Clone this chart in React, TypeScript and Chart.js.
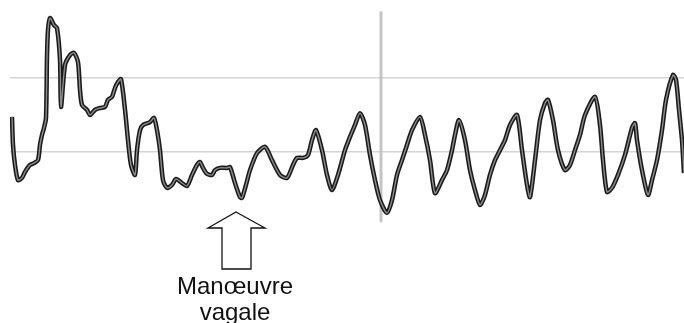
import React, { useEffect, useRef } from "react";
import { Chart, registerables } from "chart.js";

Chart.register(...registerables);

// time samples (arbitrary units)
const times = [
  12, 13, 15, 18, 22, 25, 30, 34, 38, 40, 42, 44, 46, 47, 48, 50, 54, 57, 60, 61,
  65, 70, 74, 78, 80, 82, 87, 90, 95, 100, 105, 108, 112, 115, 118, 121, 125, 128, 131, 135,
  137, 140, 143, 150, 154, 157, 160, 163, 167, 172, 176, 182, 187, 192, 197, 200, 203, 207, 212, 215,
  220, 227, 230, 235, 240, 242, 246, 250, 257, 265, 272, 280, 287, 293, 297, 303, 308, 312, 316, 322,
  327, 332, 338, 345, 350, 355, 360, 365, 370, 375, 380, 387, 392, 397, 402, 407, 412, 420, 425, 430,
  435, 442, 447, 452, 455, 459, 465, 470, 475, 480, 485, 490, 495, 500, 505, 510, 517, 522, 527, 530,
  535, 540, 545, 548, 553, 558, 565, 570, 575, 580, 585, 595, 600, 603, 607, 612, 618, 625, 632, 635,
  637, 642, 648, 652, 657, 662, 666, 673, 676, 679, 682, 684,
];

// heart-rate trace (bpm)
const heartRate = [
  109.5, 101.9, 96.5, 92.4, 93.0, 94.6, 96.5, 97.0, 97.8, 101.9, 104.6, 106.5, 109.2, 125.7, 133.0, 136.2, 134.3, 133.5, 124.9, 112.2,
  123.5, 126.2, 126.8, 124.3, 116.8, 112.7, 111.4, 110.0, 111.4, 111.9, 112.2, 114.1, 114.9, 117.3, 118.9, 119.7, 111.4, 103.2, 96.5, 93.8,
  100.5, 105.9, 107.3, 108.1, 109.2, 105.9, 100.5, 92.4, 90.3, 91.1, 92.7, 91.6, 90.8, 93.8, 96.5, 97.3, 95.7, 94.1, 93.8, 95.1,
  95.7, 95.7, 95.9, 91.6, 87.8, 87.6, 91.1, 95.1, 99.7, 101.4, 97.8, 93.8, 93.0, 96.5, 98.4, 98.4, 99.2, 103.2, 105.9, 100.5,
  93.8, 89.7, 93.8, 100.5, 104.1, 107.3, 110.5, 107.3, 99.2, 92.4, 87.0, 83.5, 87.0, 93.8, 97.8, 101.9, 105.9, 109.5, 104.6, 97.8,
  88.9, 92.4, 95.1, 100.5, 104.6, 108.6, 103.2, 95.1, 89.7, 85.7, 88.4, 93.8, 97.8, 100.5, 103.2, 107.3, 110.0, 100.5, 91.1, 87.8,
  97.8, 108.6, 113.2, 114.1, 108.6, 100.5, 95.1, 96.5, 100.5, 104.6, 110.0, 114.9, 107.3, 97.8, 89.2, 90.3, 93.8, 99.2, 106.5, 107.8,
  103.2, 95.1, 88.4, 92.4, 97.8, 105.9, 114.1, 120.8, 119.5, 111.4, 103.2, 94.3,
];

const gridValues = [100, 120];
const markerTime = 381; // vertical marker
const vagalTime = 236; // vagal manoeuvre arrow
const labelLines = ["Manœuvre", "vagale"];

export default function App() {
  const ref = useRef<HTMLCanvasElement | null>(null);

  useEffect(() => {
    if (!ref.current) return;
    const points = times.map((t, i) => ({ x: t, y: heartRate[i] }));

    const overlay = {
      id: "overlay",
      beforeDatasetsDraw(chart: any) {
        const { ctx, scales } = chart;
        const x = scales.x.getPixelForValue(markerTime);
        ctx.save();
        ctx.strokeStyle = "#c4c4c4";
        ctx.lineWidth = 3;
        ctx.beginPath();
        ctx.moveTo(x, scales.y.getPixelForValue(138));
        ctx.lineTo(x, scales.y.getPixelForValue(81));
        ctx.stroke();
        ctx.restore();
      },
      afterDraw(chart: any) {
        const { ctx, scales } = chart;
        const cx = scales.x.getPixelForValue(vagalTime);
        ctx.save();
        // arrow outline
        ctx.strokeStyle = "#111";
        ctx.lineWidth = 1.3;
        ctx.fillStyle = "#fff";
        ctx.beginPath();
        ctx.moveTo(cx, 212);
        ctx.lineTo(cx + 29, 228);
        ctx.lineTo(cx + 15, 228);
        ctx.lineTo(cx + 15, 269);
        ctx.lineTo(cx - 14, 269);
        ctx.lineTo(cx - 14, 228);
        ctx.lineTo(cx - 28, 228);
        ctx.closePath();
        ctx.fill();
        ctx.stroke();
        // label
        ctx.fillStyle = "#111";
        ctx.font = '24px "Liberation Sans", Arial, sans-serif';
        ctx.textAlign = "center";
        ctx.textBaseline = "alphabetic";
        ctx.fillText(labelLines[0], cx - 1, 294);
        ctx.fillText(labelLines[1], cx - 1, 320);
        ctx.restore();
      },
    };

    const chart = new Chart(ref.current, {
      type: "line",
      data: {
        datasets: [
          {
            data: points,
            borderColor: "#8c8c8c",
            borderWidth: 1.4,
            pointRadius: 0,
            tension: 0.25,
          },
          {
            data: points,
            borderColor: "#1a1a1a",
            borderWidth: 4.5,
            pointRadius: 0,
            tension: 0.25,
          },
        ],
      },
      options: {
        animation: false,
        responsive: false,
        layout: { padding: { left: 10, right: 0, top: 4, bottom: 97 } },
        plugins: { legend: { display: false }, tooltip: { enabled: false } },
        scales: {
          x: { type: "linear", min: 10, max: 684, display: false },
          y: {
            min: 80,
            max: 140,
            afterBuildTicks: (scale: any) => {
              scale.ticks = gridValues.map((v) => ({ value: v }));
            },
            ticks: { display: false },
            border: { display: false },
            grid: { color: "#d4d4d4", lineWidth: 1.5, drawTicks: false },
          },
        },
      },
      plugins: [overlay],
    });
    return () => chart.destroy();
  }, []);

  return (
    <div style={{ position: "fixed", left: 0, top: 0, width: 684, height: 323, background: "#fff" }}>
      <canvas ref={ref} width={684} height={323} style={{ display: "block" }} />
    </div>
  );
}
